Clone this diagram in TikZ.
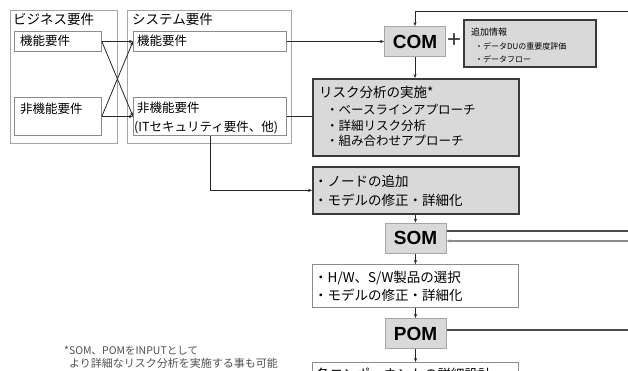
\documentclass[tikz,border=0pt]{standalone}
\usepackage{fontspec}
\setmainfont{Noto Sans CJK JP}
\newfontfamily\latinb{Liberation Sans}
\usetikzlibrary{arrows.meta}
\definecolor{boxfill}{HTML}{D9D9D9}
\definecolor{thinline}{HTML}{8C8C8C}
\definecolor{outerline}{HTML}{A6A6A6}
\definecolor{thickline}{HTML}{3A3A3A}
\definecolor{notegray}{HTML}{505050}
\tikzset{
  box/.style={draw=thinline,line width=0.8pt,fill=white,inner sep=0pt,anchor=north west},
  outerbox/.style={draw=outerline,line width=0.9pt,inner sep=0pt,anchor=north west},
  graybox/.style={draw=thickline,line width=1.8pt,fill=boxfill,inner sep=0pt,anchor=north west},
  model/.style={draw=outerline,line width=1pt,fill=boxfill,minimum width=61pt,minimum height=30pt,inner sep=0pt,font=\latinb\fontsize{19}{19}\selectfont\bfseries},
  txt/.style={anchor=west,inner sep=0pt,align=left,text height=0.8em,text depth=0.15em,yshift=-1.3pt},
  conn/.style={line width=0.8pt,draw=black!85},
  arr/.style={conn,-{Stealth[length=4pt,width=3.2pt]}},
}
\begin{document}
\begin{tikzpicture}[x=1pt,y=-1pt]
\useasboundingbox (0,0) rectangle (628,370);
\clip (0,0) rectangle (628,370);
% outer boxes
\node[outerbox,minimum width=107pt,minimum height=133pt] (ob) at (10,10) {};
\node[txt,font=\fontsize{13.5}{14}\selectfont] (obt) at (13,20) {ビジネス要件};
\node[outerbox,minimum width=164pt,minimum height=133pt] (os) at (127,10) {};
\node[txt,font=\fontsize{13.5}{14}\selectfont] (ost) at (132,20) {システム要件};
% inner boxes
\node[box,minimum width=87pt,minimum height=20pt] (bF) at (14,31) {};
\node[txt,font=\fontsize{12.5}{13}\selectfont] (bFt) at (20,41) {機能要件};
\node[box,minimum width=87pt,minimum height=38pt] (bN) at (14,97) {};
\node[txt,font=\fontsize{12.5}{13}\selectfont] (bNt) at (20,109) {非機能要件};
\node[box,minimum width=153pt,minimum height=20pt] (sF) at (133,31) {};
\node[txt,font=\fontsize{12.5}{13}\selectfont] (sFt) at (137,41) {機能要件};
\node[box,minimum width=153pt,minimum height=38pt] (sN) at (133,97) {};
\node[txt,font=\fontsize{12.5}{13}\selectfont] (sNt1) at (137,108) {非機能要件};
\node[txt,font=\fontsize{12.5}{13}\selectfont] (sNt2) at (134,127) {(ITセキュリティ要件、他)};
% COM and info
\node[model] (COM) at (415,41.5) {COM};
\node[inner sep=0pt,font=\latinb\fontsize{24}{24}\selectfont,text=black!80] (plus) at (454,41) {+};
\node[graybox,minimum width=132pt,minimum height=47pt] (info) at (463,19) {};
\node[txt,font=\fontsize{9}{9}\selectfont] (infot1) at (471,31) {追加情報};
\node[txt,font=\fontsize{8}{9}\selectfont] (infot2) at (475,44.5) {・データDUの重要度評価};
\node[txt,font=\fontsize{8}{9}\selectfont] (infot3) at (475,57.5) {・データフロー};
% risk box
\node[graybox,minimum width=206pt,minimum height=77pt] (risk) at (312,78) {};
\node[txt,font=\fontsize{13.5}{14}\selectfont] (riskt1) at (319,93) {リスク分析の実施*};
\node[txt,font=\fontsize{12.5}{14}\selectfont] (riskt2) at (326,110) {・ベースラインアプローチ};
\node[txt,font=\fontsize{12.5}{14}\selectfont] (riskt3) at (326,125.5) {・詳細リスク分析};
\node[txt,font=\fontsize{12.5}{14}\selectfont] (riskt4) at (326,141) {・組み合わせアプローチ};
% node box
\node[graybox,minimum width=206pt,minimum height=47pt] (nodeb) at (312,166) {};
\node[txt,font=\fontsize{13.5}{14}\selectfont] (nodet1) at (314,182) {・ノードの追加};
\node[txt,font=\fontsize{13.5}{14}\selectfont] (nodet2) at (314,201) {・モデルの修正・詳細化};
% SOM
\node[model] (SOM) at (415.5,238) {SOM};
% HW box
\node[box,minimum width=206pt,minimum height=43pt] (hw) at (312,264) {};
\node[txt,font=\fontsize{13.5}{14}\selectfont] (hwt1) at (314,277.5) {・H/W、S/W製品の選択};
\node[txt,font=\fontsize{13.5}{14}\selectfont] (hwt2) at (314,296) {・モデルの修正・詳細化};
% POM
\node[model] (POM) at (415.5,333.5) {POM};
% bottom box (cut off by the picture's lower edge, as in the reference)
\node[box,minimum width=206pt,minimum height=45pt] (det) at (312,362) {};
\node[txt,font=\fontsize{13.5}{14}\selectfont] (dett) at (316,375) {各コンポーネントの詳細設計};
% footnote
\node[txt,text=notegray,font=\fontsize{10.5}{11}\selectfont] (n1) at (64,350) {*SOM、POMをINPUTとして};
\node[txt,text=notegray,font=\fontsize{11}{11}\selectfont] (n2) at (69,362.5) {より詳細なリスク分析を実施する事も可能};
% connectors
\draw[arr] (bF.east) -- (sF.west);
\draw[arr] (bN.east) -- (sN.west);
\draw[arr] (bF.east) -- (sN.west);
\draw[arr] (bN.east) -- (sF.west);
\draw[arr] (sF.east) -- (COM.west);
\coordinate (tr) at (628,11);
\draw[arr] (tr) -| (COM.north);
\draw[arr] (COM.south) -- (COM.south |- risk.north);
\draw[conn] (sN.east) -- (risk.west |- sN.east);
\draw[arr] (sN.south) |- (nodeb.west);
\draw[arr] (nodeb.south -| SOM.north) -- (SOM.north);
\coordinate (s1) at (628,231);
\coordinate (s2) at (628,241);
\draw[line width=1.6pt,draw=black!70] (SOM.east |- s1) -- (s1);
\draw[line width=1.4pt,draw=black!45,-{Stealth[length=4pt,width=3.2pt]}] (s2) -- (SOM.east |- s2);
\draw[arr] (SOM.south) -- (SOM.south |- hw.north);
\draw[arr] (hw.south -| POM.north) -- (POM.north);
\coordinate (p1) at (628,330);
\draw[line width=1.4pt,draw=black!70] (POM.east |- p1) -- (p1);
\draw[arr] (POM.south) -- (POM.south |- det.north);
\end{tikzpicture}
\end{document}
